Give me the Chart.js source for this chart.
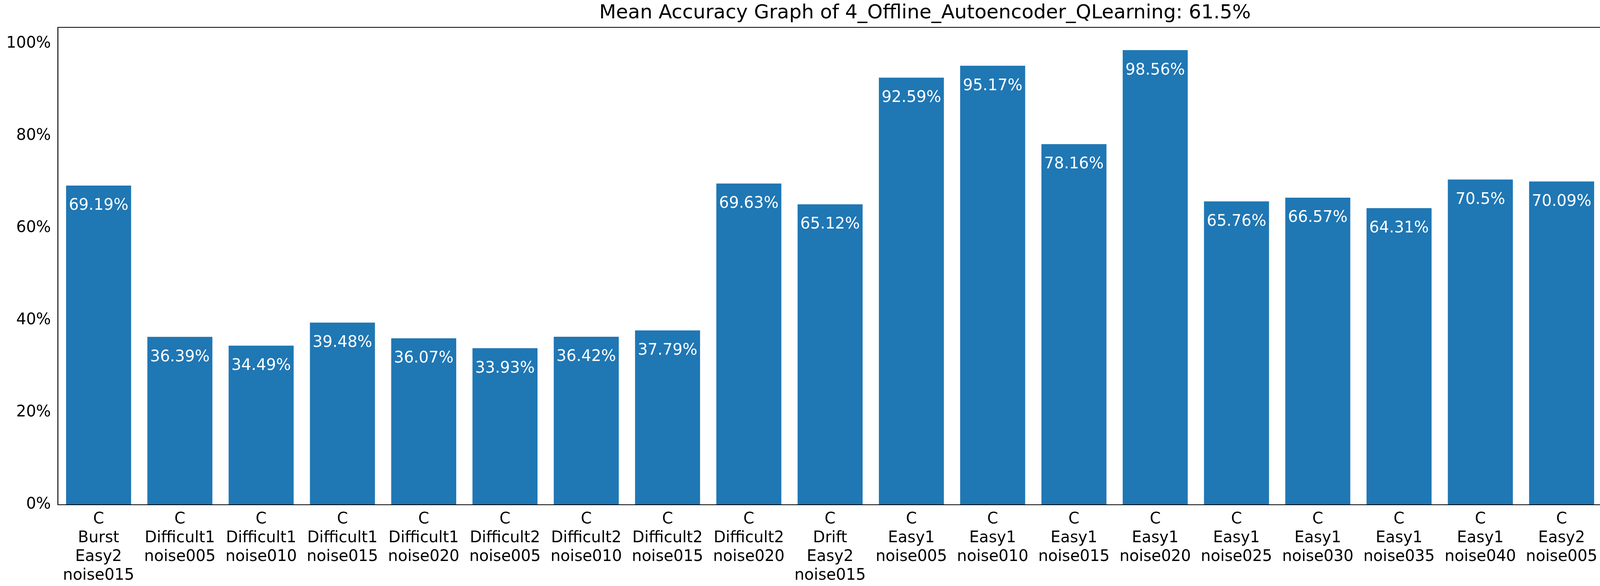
<!DOCTYPE html>
<html>
<head>
<meta charset="utf-8">
<script src="https://cdn.jsdelivr.net/npm/chart.js@4"></script>
<style>
html, body { margin: 0; padding: 0; background: #fff; overflow: hidden; }
canvas { display: block; }
</style>
</head>
<body>
<canvas id="chart" width="4740" height="1500" style="width:4740px;height:1500px"></canvas>
<script>
const categories = [
    ['C', 'Burst', 'Easy2', 'noise015'],
    ['C', 'Difficult1', 'noise005'],
    ['C', 'Difficult1', 'noise010'],
    ['C', 'Difficult1', 'noise015'],
    ['C', 'Difficult1', 'noise020'],
    ['C', 'Difficult2', 'noise005'],
    ['C', 'Difficult2', 'noise010'],
    ['C', 'Difficult2', 'noise015'],
    ['C', 'Difficult2', 'noise020'],
    ['C', 'Drift', 'Easy2', 'noise015'],
    ['C', 'Easy1', 'noise005'],
    ['C', 'Easy1', 'noise010'],
    ['C', 'Easy1', 'noise015'],
    ['C', 'Easy1', 'noise020'],
    ['C', 'Easy1', 'noise025'],
    ['C', 'Easy1', 'noise030'],
    ['C', 'Easy1', 'noise035'],
    ['C', 'Easy1', 'noise040'],
    ['C', 'Easy2', 'noise005'],
    ['C', 'Easy2', 'noise010'],
    ['C', 'Easy2', 'noise015'],
    ['C', 'Easy2', 'noise020']
];
const accuracy = [69.19, 36.39, 34.49, 39.48, 36.07, 33.93, 36.42, 37.79, 69.63, 65.12,
    92.59, 95.17, 78.16, 98.56, 65.76, 66.57, 64.31, 70.5, 70.09, 59.09, 67.16, 66.57];
const valueLabels = ['69.19%', '36.39%', '34.49%', '39.48%', '36.07%', '33.93%', '36.42%', '37.79%',
    '69.63%', '65.12%', '92.59%', '95.17%', '78.16%', '98.56%', '65.76%', '66.57%', '64.31%',
    '70.5%', '70.09%', '59.09%', '67.16%', '66.57%'];
const yTicks = [0, 20, 40, 60, 80, 100];

const fontFamily = 'DejaVu Sans';

// белые подписи внутри столбиков
const barLabels = {
    id: 'barLabels',
    afterDatasetsDraw(chart) {
        const ctx = chart.ctx;
        const meta = chart.getDatasetMeta(0);
        ctx.save();
        ctx.fillStyle = '#ffffff';
        ctx.font = '40px ' + fontFamily;
        ctx.textAlign = 'center';
        ctx.textBaseline = 'middle';
        meta.data.forEach((bar, i) => {
            ctx.fillText(valueLabels[i], bar.x, bar.y + 52);
        });
        ctx.restore();
    }
};

// рамка вокруг области графика
const frame = {
    id: 'frame',
    afterDraw(chart) {
        const a = chart.chartArea;
        const ctx = chart.ctx;
        ctx.save();
        ctx.strokeStyle = '#000';
        ctx.lineWidth = 2;
        ctx.strokeRect(a.left, a.top, a.right - a.left, a.bottom - a.top);
        ctx.restore();
    }
};

new Chart(document.getElementById('chart'), {
    type: 'bar',
    data: {
        labels: categories,
        datasets: [{
            data: accuracy,
            backgroundColor: '#1f77b4',
            barPercentage: 0.8,
            categoryPercentage: 1.0
        }]
    },
    options: {
        responsive: false,
        devicePixelRatio: 1,
        animation: false,
        layout: { padding: { left: 10, right: 14, top: 0, bottom: 0 } },
        scales: {
            x: {
                offset: true,
                grid: { display: false, drawTicks: true, tickLength: 12, color: '#000' },
                border: { display: true, color: '#000', width: 2 },
                ticks: {
                    color: '#000',
                    font: { family: fontFamily, size: 40 },
                    maxRotation: 0,
                    autoSkip: false,
                    padding: 2
                }
            },
            y: {
                min: 0,
                max: 103.49,
                afterBuildTicks(axis) {
                    axis.ticks = yTicks.map(v => ({ value: v }));
                },
                grid: { display: false, drawTicks: true, tickLength: 12, color: '#000' },
                border: { display: true, color: '#000', width: 2 },
                ticks: {
                    color: '#000',
                    font: { family: fontFamily, size: 40 },
                    callback: v => v + '%',
                    padding: 6
                }
            }
        },
        plugins: {
            legend: { display: false },
            tooltip: { enabled: false },
            title: {
                display: true,
                text: 'Mean Accuracy Graph of 4_Offline_Autoencoder_QLearning: 61.5%',
                color: '#000',
                font: { family: fontFamily, size: 50, weight: 'normal' },
                padding: { top: 4, bottom: 6 }
            }
        }
    },
    plugins: [barLabels, frame]
});
</script>
</body>
</html>
